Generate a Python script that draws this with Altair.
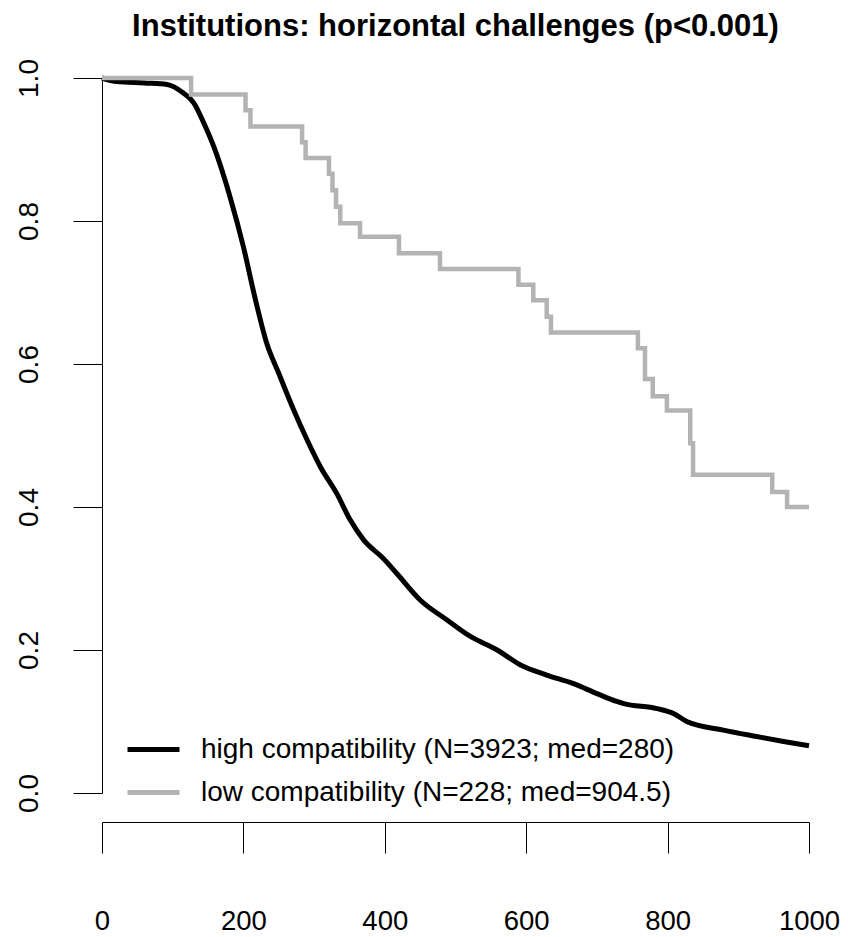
import altair as alt
import pandas as pd

# ---- data ----
high_t = [0, 21, 60, 92, 115, 130, 144, 160, 181, 200, 217, 233, 250, 271, 290,
          309, 332, 351, 370, 398, 417, 450, 488, 521, 559, 592, 629, 667, 700,
          728, 738, 785, 809, 827, 879, 926, 964, 1000]
high_s = [1.0, 0.995, 0.993, 0.991, 0.979, 0.965, 0.937, 0.899, 0.834, 0.764,
          0.690, 0.629, 0.587, 0.536, 0.494, 0.456, 0.419, 0.382, 0.354, 0.328,
          0.307, 0.270, 0.242, 0.219, 0.200, 0.179, 0.165, 0.153, 0.139, 0.128,
          0.125, 0.118, 0.111, 0.100, 0.088, 0.079, 0.072, 0.066]

low_t = [0, 126, 203, 210, 283, 288, 321, 326, 331, 337, 365, 420, 478, 589,
         610, 629, 635, 758, 768, 779, 799, 832, 836, 948, 969, 1000]
low_s = [1.0, 0.977, 0.955, 0.932, 0.910, 0.888, 0.866, 0.843, 0.820, 0.797,
         0.778, 0.755, 0.733, 0.711, 0.689, 0.666, 0.644, 0.622, 0.579, 0.555,
         0.535, 0.489, 0.445, 0.421, 0.400, 0.400]

groups = ["high compatibility (N=3923; med=280)",
          "low compatibility (N=228; med=904.5)"]
group_colors = ["#000000", "#b3b3b3"]
title_text = "Institutions: horizontal challenges (p<0.001)"
x_ticks = [0, 200, 400, 600, 800, 1000]
y_ticks = [0.0, 0.2, 0.4, 0.6, 0.8, 1.0]

high_df = pd.DataFrame({"time": high_t, "surv": high_s, "group": groups[0]})
low_df = pd.DataFrame({"time": low_t, "surv": low_s, "group": groups[1]})

FONT = "Liberation Sans"

x_enc = alt.X(
    "time:Q",
    scale=alt.Scale(domain=[0, 1000], nice=False, zero=False),
    axis=alt.Axis(values=x_ticks, format="d", title=None, offset=29,
                  tickSize=31, labelFontSize=27.5, labelFont=FONT,
                  labelPadding=76, labelBaseline="alphabetic",
                  labelColor="black", domainColor="black", tickColor="black",
                  grid=False, labelFlush=False, labelOverlap=False),
)
y_enc = alt.Y(
    "surv:Q",
    scale=alt.Scale(domain=[0, 1], nice=False, zero=False),
    axis=alt.Axis(values=y_ticks, format=".1f", title=None, tickSize=29,
                  labelFontSize=28, labelFont=FONT, labelAngle=270,
                  labelAlign="center", labelBaseline="alphabetic",
                  labelPadding=36, labelColor="black", domainColor="black",
                  tickColor="black", grid=False, labelFlush=False,
                  labelOverlap=False),
)
color_enc = alt.Color(
    "group:N",
    scale=alt.Scale(domain=groups, range=group_colors),
    legend=alt.Legend(orient="none", legendX=23, legendY=643, title=None,
                      symbolType="stroke", symbolSize=2704,
                      symbolStrokeWidth=5, labelFontSize=28, labelFont=FONT,
                      labelColor="black", labelLimit=0, labelOffset=19,
                      rowPadding=-16, padding=0),
)

high_line = alt.Chart(high_df).mark_line(strokeWidth=5, interpolate="monotone").encode(
    x=x_enc, y=y_enc, color=color_enc)
low_line = alt.Chart(low_df).mark_line(strokeWidth=4.5, interpolate="step-after").encode(
    x=x_enc, y=y_enc, color=color_enc)

chart = alt.layer(high_line, low_line).properties(
    width=707,
    height=715,
    padding={"left": 94, "top": 70, "right": 31, "bottom": 144},
    autosize="none",
    title=alt.Title(title_text, fontSize=31, font=FONT, fontWeight="bold",
                    anchor="middle", offset=16, dx=0, color="black"),
).configure_view(stroke=None)

chart.save("out.html", embed_options={"renderer": "svg", "actions": False})
